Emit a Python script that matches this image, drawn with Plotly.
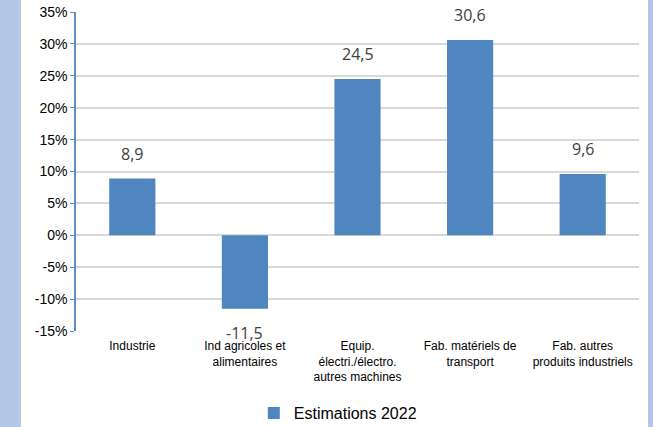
import plotly.graph_objects as go

categories = [
    "Industrie",
    "Ind agricoles et<br>alimentaires",
    "Equip.<br>électri./électro.<br>autres machines",
    "Fab. matériels de<br>transport",
    "Fab. autres<br>produits industriels",
]
values = [8.9, -11.5, 24.5, 30.6, 9.6]
value_labels = ["8,9", "-11,5", "24,5", "30,6", "9,6"]
series_name = "Estimations 2022"
tick_vals = [-15, -10, -5, 0, 5, 10, 15, 20, 25, 30, 35]
tick_text = ["-15%", "-10%", "-5%", "0%", "5%", "10%", "15%", "20%", "25%", "30%", "35%"]

bar_color = "#4f86bf"
strip_color = "#b4c7e7"

fig = go.Figure()
fig.add_trace(go.Bar(
    x=categories, y=values, name=series_name,
    marker=dict(color=bar_color, line=dict(width=0)),
    showlegend=True,
))

for c, v, t in zip(categories, values, value_labels):
    fig.add_annotation(
        x=c, y=v, text=t, showarrow=False,
        yanchor="bottom" if v >= 0 else "top",
        yshift=12 if v >= 0 else -11,
        font=dict(family="Open Sans, Arial", size=16, color="#404040"),
    )

W, H = 653, 427
L, R, T, B = 76, 14, 12, 96
pw, ph = W - L - R, H - T - B

def px(xp):
    return (xp - L) / pw

# white card between the two light-blue side strips
fig.add_shape(type="rect", xref="paper", yref="paper",
              x0=px(21), x1=px(648), y0=-1, y1=2,
              fillcolor="white", line=dict(width=0), layer="below")

fig.update_layout(
    width=W, height=H,
    margin=dict(l=L, r=R, t=T, b=B, autoexpand=False),
    paper_bgcolor=strip_color, plot_bgcolor="white",
    bargap=0.59,
    font=dict(family="Liberation Sans, Arial", color="black"),
    legend=dict(orientation="h", x=0.465, xanchor="center", y=-0.257, yanchor="middle",
                font=dict(size=16, color="black"), itemwidth=30,
                bgcolor="rgba(0,0,0,0)"),
    xaxis=dict(showgrid=False, showline=False, ticks="",
               tickfont=dict(size=12, color="black"), ticklabelstandoff=6),
    yaxis=dict(range=[-15, 35], tickvals=tick_vals, ticktext=tick_text,
               showgrid=True, gridcolor="#d9d9d9", gridwidth=1.5,
               zeroline=True, zerolinecolor="#d9d9d9", zerolinewidth=1.5,
               showline=True, linecolor="#5b8fc9", linewidth=1.5,
               ticks="outside", ticklen=4, tickcolor="#5b8fc9",
               tickfont=dict(size=14, color="black")),
)

fig.write_html("out.html", config={"displayModeBar": False},
               post_script="document.body.style.margin='0';document.body.style.overflow='hidden';")
